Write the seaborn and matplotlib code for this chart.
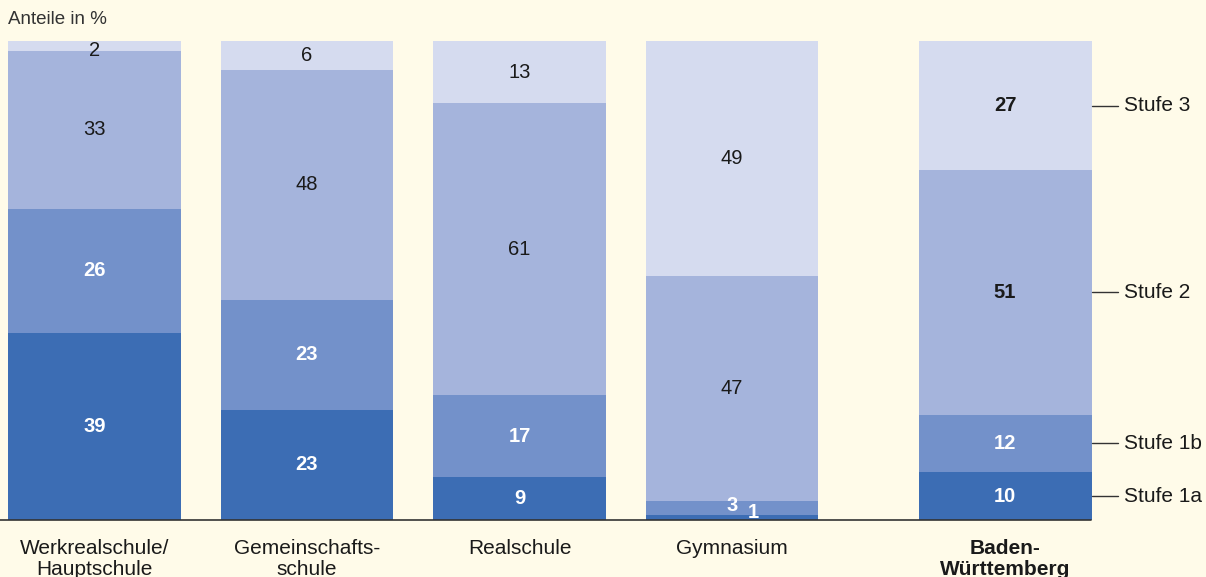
import seaborn as sns
import pandas as pd
import matplotlib.pyplot as plt

# Daten
schulen = ['Werkrealschule/\nHauptschule', 'Gemeinschafts-\nschule', 'Realschule', 'Gymnasium', 'Baden-\nWürttemberg']
xpos = [0, 1, 2, 3, 4.285]
stufen = ['Stufe 1a', 'Stufe 1b', 'Stufe 2', 'Stufe 3']
stufe_1a = [39, 23, 9, 1, 10]
stufe_1b = [26, 23, 17, 3, 12]
stufe_2 = [33, 48, 61, 47, 51]
stufe_3 = [2, 6, 13, 49, 27]
farben = ['#3C6DB4', '#7391CA', '#A5B4DC', '#D5DBEF']
bg = '#FFFBE9'

df = pd.DataFrame({'x': xpos, 'Stufe 1a': stufe_1a, 'Stufe 1b': stufe_1b,
                   'Stufe 2': stufe_2, 'Stufe 3': stufe_3})

sns.set_style('white')
plt.rcParams['font.family'] = ['Liberation Sans', 'DejaVu Sans']

fig = plt.figure(figsize=(12.06, 5.77), dpi=100, facecolor=bg)
ax = fig.add_axes([0, 57 / 577, 1, 479 / 577])
ax.set_facecolor(bg)

# gestapelte Balken: kumulierte Summen von oben nach unten ueberlagern
kum = df[stufen].cumsum(axis=1)
for i in range(len(stufen) - 1, -1, -1):
    sns.barplot(x=df['x'], y=kum[stufen[i]], native_scale=True, width=0.814,
                color=farben[i], saturation=1, linewidth=0, ax=ax)

ax.set_xlim(-94.5 / 212.5, (1206 - 94.5) / 212.5)
ax.set_ylim(0, 100)
ax.axis('off')
ax.axhline(0, xmin=0, xmax=1091 / 1206, color='#333333', lw=1.2, clip_on=False)

# Werte in den Balken
sonder = {(0, 3): (0, 98.1), (3, 1): (0, 3.0), (3, 0): (0.1, 1.6)}
for j, x in enumerate(xpos):
    unten = 0
    for i, s in enumerate(stufen):
        v = df[s][j]
        dx, y = sonder.get((j, i), (0, unten + v / 2))
        fett = i < 2 or j == 4
        farbe = 'white' if i < 2 else '#1a1a1a'
        ax.text(x + dx, y, str(v), ha='center', va='center', fontsize=14.5,
                color=farbe, fontweight='bold' if fett else 'normal')
        unten += v

# Kategorien
for j, (x, name) in enumerate(zip(xpos, schulen)):
    ax.text(x, -3.9, name, ha='center', va='top', fontsize=15, color='#1a1a1a',
            linespacing=1.17, fontweight='bold' if j == 4 else 'normal')

# Legende rechts
bx = xpos[4] + 0.814 / 2
unten = 0
for i, s in enumerate(stufen):
    v = df[s][4]
    y = unten + v / 2
    ax.plot([bx, bx + 26 / 212.5], [y, y], color='#333333', lw=1)
    ax.text(bx + 32 / 212.5, y, s, ha='left', va='center', fontsize=15, color='#1a1a1a')
    unten += v

fig.text(8 / 1206, 1 - 19 / 577, 'Anteile in %', ha='left', va='center', fontsize=13.5, color='#333333')

plt.savefig('out.png', dpi=100, facecolor=bg)
